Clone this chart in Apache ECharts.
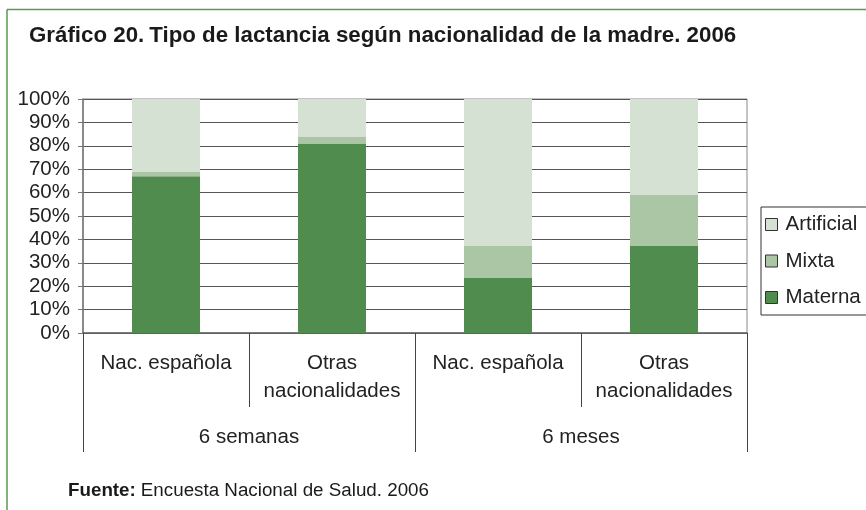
<!DOCTYPE html>
<html>
<head>
<meta charset="utf-8">
<script src="https://cdn.jsdelivr.net/npm/echarts@6/dist/echarts.min.js"></script>
<style>
  html, body { margin: 0; padding: 0; background: #fff; }
  #chart { width: 866px; height: 510px; }
</style>
</head>
<body>
<div id="chart"></div>
<script>
const subCategories = ["Nac. española", "Otras\nnacionalidades", "Nac. española", "Otras\nnacionalidades"];
const groupCategories = ["6 semanas", "6 meses"];
const materna = [67, 81, 23.5, 37.2];
const mixta = [2, 3, 13.7, 21.8];
const artificial = [31, 16, 62.8, 41];
const yTicks = { min: 0, max: 100, interval: 10 };

const textColor = "#222";
const gridColor = "#555";
const font = "'Liberation Sans', Arial, sans-serif";
const labelSize = 20.5;

const chart = echarts.init(document.getElementById("chart"));

chart.setOption({
  animation: false,
  textStyle: { fontFamily: font },
  graphic: [
    { type: "line", shape: { x1: 7, y1: 9.5, x2: 866, y2: 9.5 }, style: { stroke: "#5a9a50", lineWidth: 1.5 } },
    { type: "line", shape: { x1: 7, y1: 9.5, x2: 7, y2: 510 }, style: { stroke: "#5a9a50", lineWidth: 1.5 } },
  ],
  title: [
    {
      left: 29,
      top: 25,
      padding: 0,
      text: "{a|Gráfico 20.} {b|Tipo de lactancia según nacionalidad de la madre. 2006}",
      textStyle: {
        rich: {
          a: { fontFamily: font, fontSize: 22.3, fontWeight: 900, color: "#1a1a1a" },
          b: { fontFamily: font, fontSize: 22.3, fontWeight: "bold", color: "#1a1a1a" },
        },
      },
    },
    {
      left: 68,
      top: 481,
      padding: 0,
      text: "{a|Fuente:} {b|Encuesta Nacional de Salud. 2006}",
      textStyle: {
        rich: {
          a: { fontFamily: font, fontSize: 18.8, fontWeight: "bold", color: "#1a1a1a" },
          b: { fontFamily: font, fontSize: 18.8, fontWeight: "normal", color: "#1a1a1a" },
        },
      },
    },
  ],
  legend: {
    orient: "vertical",
    left: 761,
    top: 207,
    data: ["Artificial", "Mixta", "Materna"],
    icon: "rect",
    itemWidth: 12,
    itemHeight: 12,
    itemGap: 15.5,
    padding: [7, 8, 7, 4],
    borderColor: "#333",
    borderWidth: 1,
    itemStyle: { borderColor: "#333", borderWidth: 1 },
    textStyle: { fontFamily: font, fontSize: labelSize, color: textColor, padding: [0, 0, 0, 3] },
  },
  grid: {
    left: 83,
    right: 119,
    top: 99,
    bottom: 177,
    show: true,
    borderColor: "#888",
    borderWidth: 1,
  },
  xAxis: [
    {
      type: "category",
      data: subCategories,
      position: "bottom",
      axisLine: { lineStyle: { color: "#666", width: 1.5 } },
      axisTick: { show: true, interval: 0, length: 74, lineStyle: { color: "#444" } },
      axisLabel: { interval: 0, margin: 16, fontSize: labelSize, lineHeight: 28, color: textColor, fontFamily: font },
    },
    {
      type: "category",
      data: groupCategories,
      position: "bottom",
      offset: 0,
      axisLine: { show: false },
      axisTick: { show: true, interval: 0, length: 119, lineStyle: { color: "#444" } },
      axisLabel: { interval: 0, margin: 90, fontSize: labelSize, lineHeight: 28, color: textColor, fontFamily: font },
    },
  ],
  yAxis: {
    type: "value",
    min: yTicks.min,
    max: yTicks.max,
    interval: yTicks.interval,
    axisLine: { show: true, lineStyle: { color: "#777", width: 1.5 } },
    axisTick: { show: true, length: 5, lineStyle: { color: "#777" } },
    axisLabel: { formatter: "{value}%", fontSize: labelSize, color: textColor, margin: 13, fontFamily: font },
    splitLine: { lineStyle: { color: gridColor, width: 1 } },
  },
  series: [
    {
      name: "Materna",
      type: "bar",
      stack: "total",
      data: materna,
      barWidth: 68,
      itemStyle: { color: "#508c4e" },
    },
    {
      name: "Mixta",
      type: "bar",
      stack: "total",
      data: mixta,
      itemStyle: { color: "#aac6a4" },
    },
    {
      name: "Artificial",
      type: "bar",
      stack: "total",
      data: artificial,
      itemStyle: { color: "#d5e1d2" },
    },
  ],
});
</script>
</body>
</html>
